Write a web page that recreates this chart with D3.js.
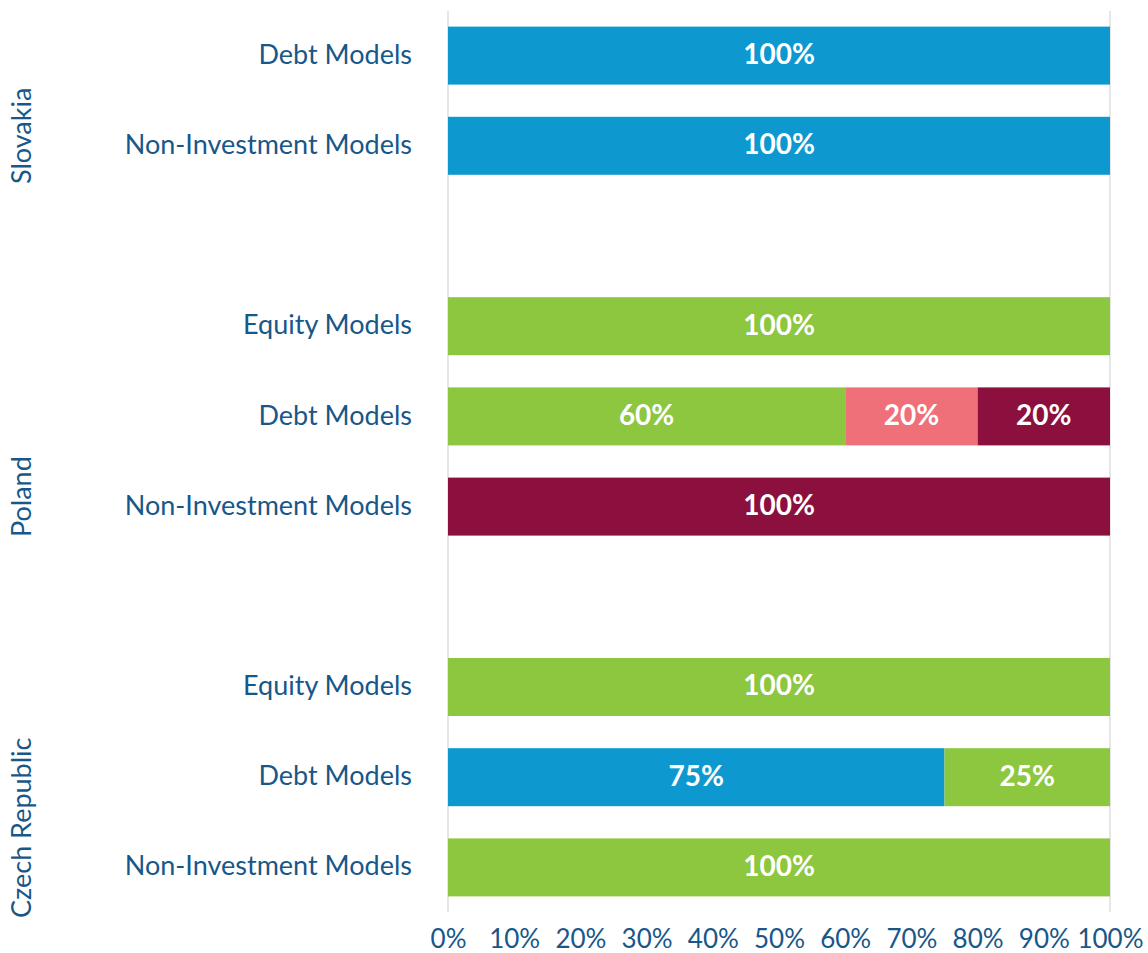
<!DOCTYPE html>
<html>
<head>
<meta charset="utf-8">
<script src="https://cdn.jsdelivr.net/npm/d3@7"></script>
<style>
  html, body { margin: 0; padding: 0; background: #fff; }
  svg { display: block; }
  text { font-family: Lato, "Open Sans", sans-serif; }
</style>
</head>
<body>
<svg id="chart" width="1148" height="953"></svg>
<script>
// Countries (top to bottom) and the model types reported for each
const countries = ["Slovakia", "Poland", "Czech Republic"];
const slovakiaModels = ["Debt Models", "Non-Investment Models"];
const polandModels = ["Equity Models", "Debt Models", "Non-Investment Models"];
const czechModels = ["Equity Models", "Debt Models", "Non-Investment Models"];

// Stacked shares (%) per row, row order as listed above
const seriesKeys = ["blue", "green", "pink", "maroon"];
const blueValues   = [100, 100,   0,  0,   0,   0, 75,   0];
const greenValues  = [  0,   0, 100, 60,   0, 100, 25, 100];
const pinkValues   = [  0,   0,   0, 20,   0,   0,  0,   0];
const maroonValues = [  0,   0,   0, 20, 100,   0,  0,   0];

const tickValues = [0, 10, 20, 30, 40, 50, 60, 70, 80, 90, 100];

const colors = { blue: "#0d99cf", green: "#8dc63f", pink: "#f0707a", maroon: "#8b103e" };
const textColor = "#17578a";

// Build the row list with an empty slot between country groups
const groups = [slovakiaModels, polandModels, czechModels];
const slots = [];
const rows = [];
groups.forEach((models, gi) => {
  if (gi > 0) slots.push("gap-" + gi);
  models.forEach(m => {
    const id = countries[gi] + "|" + m;
    slots.push(id);
    rows.push({ id, country: countries[gi], model: m });
  });
});
rows.forEach((r, i) => {
  r.blue = blueValues[i];
  r.green = greenValues[i];
  r.pink = pinkValues[i];
  r.maroon = maroonValues[i];
});

const svg = d3.select("#chart");
const plotLeft = 448, plotRight = 1110, plotTop = 11, plotBottom = 912;

const x = d3.scaleLinear().domain([0, 100]).range([plotLeft, plotRight]);
const y = d3.scaleBand().domain(slots).range([plotTop, plotBottom])
  .paddingInner(0.357).paddingOuter(0.173);

// Vertical reference lines at 0% and 100%
svg.append("g").selectAll("line").data([0, 100]).join("line")
  .attr("x1", d => x(d)).attr("x2", d => x(d))
  .attr("y1", plotTop).attr("y2", plotBottom)
  .attr("stroke", "#e6e6e6").attr("stroke-width", 2);

// Stacked bars
const stacked = d3.stack().keys(seriesKeys)(rows);
const barLayer = svg.append("g");
stacked.forEach(layer => {
  const g = barLayer.append("g");
  const segs = layer.filter(d => d[1] - d[0] > 0);
  g.selectAll("rect").data(segs).join("rect")
    .attr("x", d => x(d[0]))
    .attr("y", d => y(d.data.id))
    .attr("width", d => x(d[1]) - x(d[0]))
    .attr("height", y.bandwidth())
    .attr("fill", colors[layer.key]);
  g.selectAll("text").data(segs).join("text")
    .attr("x", d => (x(d[0]) + x(d[1])) / 2)
    .attr("y", d => y(d.data.id) + y.bandwidth() / 2)
    .attr("dy", "0.3em")
    .attr("text-anchor", "middle")
    .attr("fill", "#fff")
    .attr("font-weight", "bold")
    .attr("font-size", 28)
    .text(d => (d[1] - d[0]) + "%");
});

// Category labels
svg.append("g").selectAll("text").data(rows).join("text")
  .attr("x", 412)
  .attr("y", d => y(d.id) + y.bandwidth() / 2)
  .attr("dy", "0.3em")
  .attr("text-anchor", "end")
  .attr("fill", textColor)
  .attr("font-size", 27)
  .text(d => d.model);

// Country labels, rotated, near the last row of each group and kept inside the plot
const countryG = svg.append("g");
groups.forEach((models, gi) => {
  const lastId = countries[gi] + "|" + models[models.length - 1];
  const t = countryG.append("text")
    .attr("text-anchor", "middle")
    .attr("fill", textColor)
    .attr("font-size", 27)
    .text(countries[gi]);
  const len = t.node().getComputedTextLength();
  let cy = y(lastId) + y.bandwidth() / 2 - 10;
  cy = Math.min(cy, plotBottom + 6 - len / 2);
  t.attr("transform", `translate(31,${cy}) rotate(-90)`);
});

// Percentage axis
const axis = d3.axisBottom(x).tickValues(tickValues).tickSize(0).tickFormat(d => d + "%");
const ax = svg.append("g").attr("transform", `translate(0,${plotBottom})`).call(axis);
ax.select(".domain").remove();
ax.selectAll("text")
  .attr("y", 18)
  .attr("dy", "0.71em")
  .attr("fill", textColor)
  .attr("font-size", 26)
  .style("font-family", "Lato, 'Open Sans', sans-serif");
</script>
</body>
</html>
